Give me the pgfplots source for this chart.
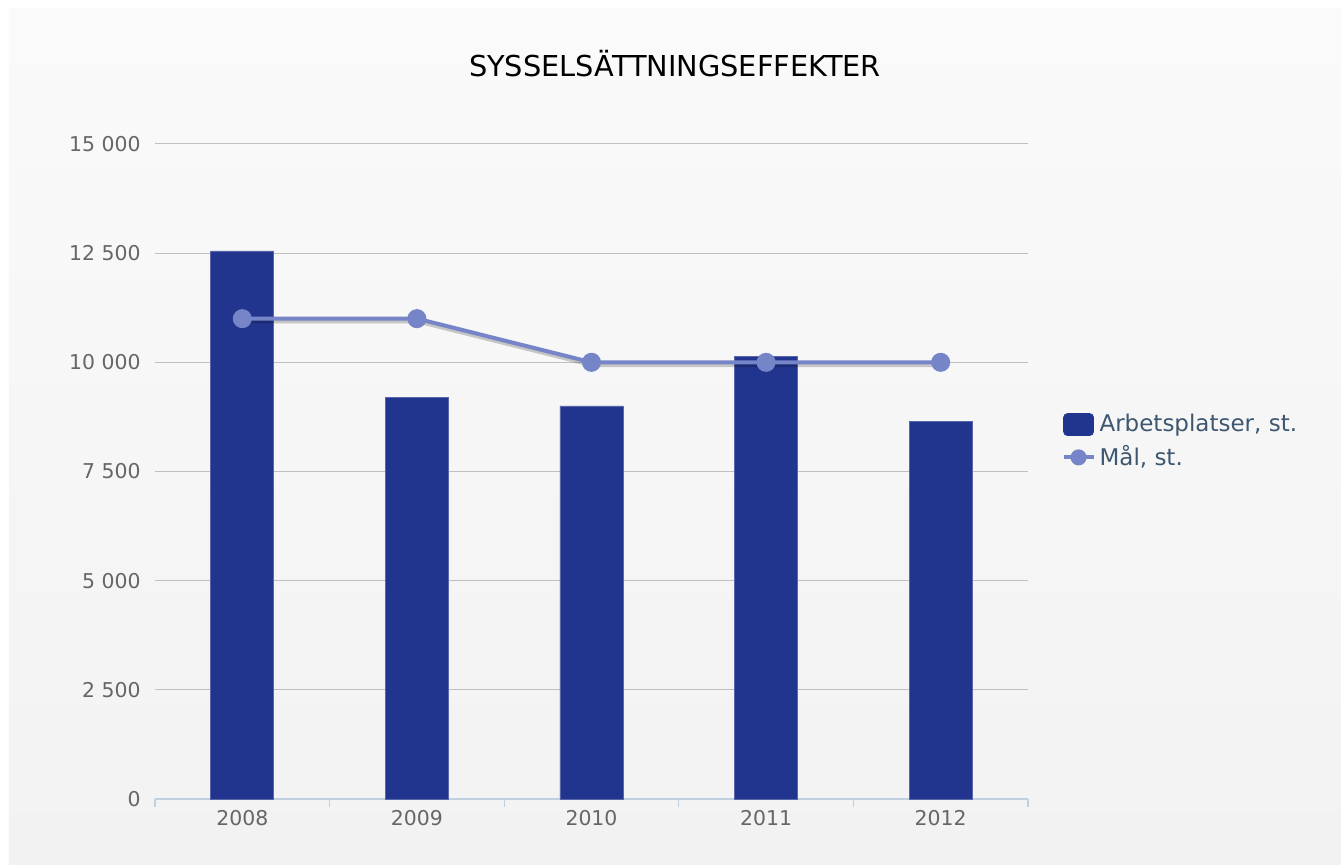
\documentclass[border=0pt]{standalone}
\usepackage{fontspec}
\setmainfont{DejaVu Sans}
\usepackage{pgfplots}
\pgfplotsset{compat=1.18}
\usetikzlibrary{backgrounds,calc}
\definecolor{barblue}{RGB}{34,53,142}
\definecolor{goalblue}{RGB}{117,133,200}
\definecolor{gridgray}{RGB}{192,192,192}
\definecolor{axisblue}{RGB}{192,208,224}
\definecolor{ticktext}{RGB}{102,102,102}
\definecolor{legtext}{RGB}{62,87,111}
\begin{document}
\begin{tikzpicture}
\begin{axis}[
  name=ax,
  scale only axis,
  width=436.5pt, height=327.5pt,
  xmin=-0.5, xmax=4.5,
  ymin=0, ymax=15000,
  scaled y ticks=false,
  % boundary ticks between the years, labels as extra ticks
  xtick={-0.5,0.5,...,4.5},
  xticklabels={},
  extra x ticks={0,1,2,3,4},
  extra x tick labels={2008,2009,2010,2011,2012},
  extra x tick style={major tick length=0pt, tick style={draw=none}},
  tick align=outside,
  major tick length=4pt,
  xtick style={draw=axisblue, line width=0.6pt},
  ytick={0,2500,...,15000},
  ytick style={draw=none},
  ymajorgrids,
  grid style={draw=gridgray, line width=0.5pt},
  axis x line*=bottom, axis y line*=left,
  x axis line style={draw=axisblue, line width=1pt},
  y axis line style={draw=none},
  /pgf/number format/assume math mode=true,
  /pgf/number format/1000 sep={\ },
  yticklabel style={anchor=east, inner sep=0pt, xshift=-7pt+4pt, font=\fontsize{10.2}{12}\selectfont, text=ticktext},
  xticklabel style={anchor=north, inner sep=0pt, yshift=-5.5pt, font=\fontsize{10.2}{12}\selectfont, text=ticktext},
  title={SYSSELSÄTTNINGSEFFEKTER},
  title style={at={(axis description cs:0.5956,1.1038)}, anchor=center, inner sep=0pt,
    font=\fontsize{14.4}{16}\selectfont, text=black},
  legend style={at={(axis description cs:1.038,0.594)}, anchor=north west,
    draw=none, fill=none, inner sep=0pt, row sep=1.5pt,
    font=\fontsize{11.5}{13}\selectfont, text=legtext},
  legend cell align=left,
  clip=false,
]
\addplot[ybar, bar width=31.5pt, fill=barblue, draw=barblue!75!white, line width=0.4pt,
  legend image code/.code={\fill[barblue, rounded corners=2pt] (0pt,-5.5pt) rectangle (15pt,5.5pt);}]
  coordinates {(0,12550) (1,9200) (2,9000) (3,10130) (4,8640)};
\addlegendentry{Arbetsplatser, st.}
% shadow of the goal line
\addplot[black, opacity=0.2, line width=3pt, xshift=0.5pt, yshift=-0.9pt, forget plot]
  coordinates {(0,11000) (1,11000) (2,10000) (3,10000) (4,10000)};
\addplot[goalblue, line width=2pt, mark=*, mark size=3.75pt, mark options={fill=goalblue, draw=none},
  legend image code/.code={\draw[goalblue, line width=2pt] (0pt,0pt) -- (15pt,0pt); \fill[goalblue] (7.5pt,0pt) circle (3pt);}]
  coordinates {(0,11000) (1,11000) (2,10000) (3,10000) (4,10000)};
\addlegendentry{Mål, st.}
\end{axis}
\begin{scope}[on background layer]
  \fill[white] ($(ax.south west)+(-77.5pt,-33pt)$) rectangle ($(ax.south west)+(593pt,399.5pt)$);
  \shade[top color={rgb,255:red,250;green,250;blue,250}, bottom color={rgb,255:red,242;green,242;blue,242}]
    ($(ax.south west)+(-73pt,-33pt)$) rectangle ($(ax.south west)+(593pt,395pt)$);
\end{scope}
\end{tikzpicture}
\end{document}
